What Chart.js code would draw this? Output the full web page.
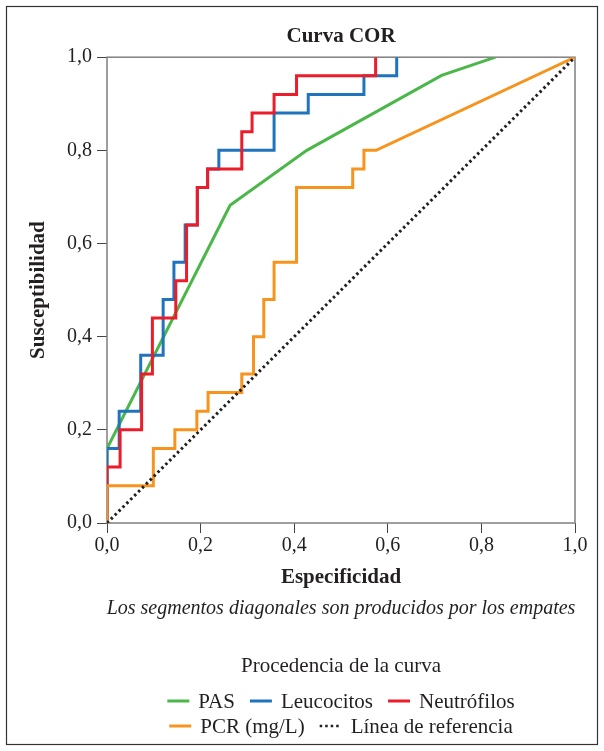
<!DOCTYPE html>
<html>
<head>
<meta charset="utf-8">
<title>Curva COR</title>
<script src="https://cdn.jsdelivr.net/npm/chart.js@4.4.0/dist/chart.umd.min.js"></script>
<style>
  html, body { margin: 0; padding: 0; background: #fff; }
  #wrap { width: 604px; height: 751px; }
</style>
</head>
<body>
<div id="wrap"><canvas id="roc" width="604" height="751"></canvas></div>
<script>
// Curvas COR (x = 1 - especificidad, y = susceptibilidad)
const pasX = [0, 0, 0.263, 0.427, 0.715, 0.830];
const pasY = [0, 0.16, 0.682, 0.80, 0.961, 1.0];

const leucoX = [0, 0, 0.026, 0.026, 0.072, 0.072, 0.120, 0.120, 0.143, 0.143, 0.167, 0.167, 0.193, 0.193,
                0.215, 0.215, 0.239, 0.239, 0.357, 0.357, 0.430, 0.430, 0.549, 0.549, 0.619, 0.619];
const leucoY = [0, 0.16, 0.16, 0.24, 0.24, 0.36, 0.36, 0.48, 0.48, 0.56, 0.56, 0.64, 0.64, 0.72,
                0.72, 0.76, 0.76, 0.80, 0.80, 0.88, 0.88, 0.92, 0.92, 0.96, 0.96, 1.0];

const neutroX = [0, 0, 0.028, 0.028, 0.074, 0.074, 0.097, 0.097, 0.147, 0.147, 0.170, 0.170, 0.193, 0.193,
                 0.215, 0.215, 0.288, 0.288, 0.310, 0.310, 0.357, 0.357, 0.405, 0.405, 0.574, 0.574];
const neutroY = [0, 0.12, 0.12, 0.20, 0.20, 0.32, 0.32, 0.44, 0.44, 0.52, 0.52, 0.64, 0.64, 0.72,
                 0.72, 0.76, 0.76, 0.84, 0.84, 0.88, 0.88, 0.92, 0.92, 0.96, 0.96, 1.0];

const pcrX = [0, 0, 0.099, 0.099, 0.145, 0.145, 0.192, 0.192, 0.216, 0.216, 0.288, 0.288, 0.313, 0.313,
              0.335, 0.335, 0.357, 0.357, 0.405, 0.405, 0.525, 0.525, 0.549, 0.549, 0.575, 1.0];
const pcrY = [0, 0.08, 0.08, 0.16, 0.16, 0.20, 0.20, 0.24, 0.24, 0.28, 0.28, 0.32, 0.32, 0.40,
              0.40, 0.48, 0.48, 0.56, 0.56, 0.72, 0.72, 0.76, 0.76, 0.80, 0.80, 1.0];

const refX = [0, 1];
const refY = [0, 1];

const tickValues = [0, 0.2, 0.4, 0.6, 0.8, 1.0];
const tickLabels = ["0,0", "0,2", "0,4", "0,6", "0,8", "1,0"];

const seriesNames = ["PAS", "Leucocitos", "Neutrófilos", "PCR (mg/L)", "Línea de referencia"];
const legendRows = [[0, 1, 2], [3, 4]];
const noteText = "Los segmentos diagonales son producidos por los empates";

const serif = "'Liberation Serif', 'Times New Roman', serif";
const ink = "#231f20";

function pts(xs, ys) {
    return xs.map((x, i) => ({ x: x, y: ys[i] }));
}

function line(label, data, color, order, dash) {
    return {
        label: label,
        data: data,
        showLine: true,
        borderColor: color,
        backgroundColor: color,
        borderWidth: dash ? 3 : 3,
        borderDash: dash || [],
        borderJoinStyle: "miter",
        borderCapStyle: "butt",
        pointRadius: 0,
        tension: 0,
        fill: false,
        order: order
    };
}

const datasets = [
    line(seriesNames[0], pts(pasX, pasY), "#4bb749", 4),
    line(seriesNames[1], pts(leucoX, leucoY), "#1f74bd", 3),
    line(seriesNames[2], pts(neutroX, neutroY), "#ec1c2a", 2),
    line(seriesNames[3], pts(pcrX, pcrY), "#f7941d", 1),
    line(seriesNames[4], pts(refX, refY), "#231f20", 0, [2.5, 3])
];

function setTicks(scale) {
    scale.ticks = tickValues.map(v => ({ value: v }));
}

// frame around the plot and around the whole figure
const framePlugin = {
    id: "frames",
    beforeDatasetsDraw(chart) {
        const { ctx, chartArea: a } = chart;
        ctx.save();
        ctx.strokeStyle = "#7f7f7f";
        ctx.lineWidth = 1.5;
        ctx.strokeRect(a.left, a.top, a.right - a.left, a.bottom - a.top);
        ctx.restore();
    },
    afterDraw(chart) {
        const { ctx, width, height } = chart;
        ctx.save();
        ctx.strokeStyle = "#333";
        ctx.lineWidth = 1.2;
        ctx.strokeRect(6.5, 6.5, width - 13, height - 13);
        ctx.restore();
    }
};

// note and the two-row legend under the x axis
const bottomPlugin = {
    id: "bottomTexts",
    afterDraw(chart) {
        const { ctx, chartArea: a } = chart;
        const cx = (a.left + a.right) / 2;
        ctx.save();
        ctx.fillStyle = ink;
        ctx.textBaseline = "middle";
        ctx.textAlign = "center";
        ctx.font = "italic 20px " + serif;
        ctx.fillText(noteText, cx, a.bottom + 86);

        ctx.font = "21px " + serif;
        ctx.fillText("Procedencia de la curva", cx, a.bottom + 143);

        const sw = 22, gapText = 9, gapItem = 15;
        legendRows.forEach((row, r) => {
            const y = a.bottom + 178 + r * 25;
            const widths = row.map(i => sw + gapText + ctx.measureText(seriesNames[i]).width);
            const total = widths.reduce((s, w) => s + w, 0) + gapItem * (row.length - 1);
            let x = cx - total / 2;
            row.forEach((i, k) => {
                const ds = chart.data.datasets[i];
                ctx.save();
                ctx.strokeStyle = ds.borderColor;
                ctx.lineWidth = ds.borderDash.length ? 2.5 : ds.borderWidth;
                ctx.setLineDash(ds.borderDash);
                ctx.beginPath();
                ctx.moveTo(x, y);
                ctx.lineTo(x + sw, y);
                ctx.stroke();
                ctx.restore();
                ctx.textAlign = "left";
                ctx.fillText(seriesNames[i], x + sw + gapText, y + 1);
                x += widths[k] + gapItem;
            });
        });
        ctx.restore();
    }
};

new Chart(document.getElementById("roc"), {
    type: "scatter",
    data: { datasets: datasets },
    options: {
        responsive: false,
        animation: false,
        layout: { padding: { left: 7, right: 29, top: 0, bottom: 156 } },
        plugins: {
            legend: { display: false },
            tooltip: { enabled: false },
            title: {
                display: true,
                text: "Curva COR",
                fullSize: false,
                color: ink,
                font: { family: serif, size: 21, weight: "bold" },
                padding: { top: 24, bottom: 8 }
            }
        },
        scales: {
            x: {
                type: "linear",
                min: 0,
                max: 1,
                afterBuildTicks: setTicks,
                afterFit: s => { s.height = 72; },
                ticks: {
                    callback: (v, i) => tickLabels[i],
                    color: ink,
                    font: { family: serif, size: 20 },
                    padding: 1,
                    maxRotation: 0,
                    autoSkip: false
                },
                grid: { drawOnChartArea: false, tickLength: 10, color: "#444", lineWidth: 1 },
                border: { display: false },
                title: {
                    display: true,
                    text: "Especificidad",
                    color: ink,
                    font: { family: serif, size: 21, weight: "bold" },
                    padding: { top: 0, bottom: 5 }
                }
            },
            y: {
                type: "linear",
                min: 0,
                max: 1,
                afterBuildTicks: setTicks,
                afterFit: s => { s.width = 100; },
                ticks: {
                    callback: (v, i) => tickLabels[i],
                    color: ink,
                    font: { family: serif, size: 20 },
                    padding: 5,
                    autoSkip: false
                },
                grid: { drawOnChartArea: false, tickLength: 10, color: "#444", lineWidth: 1 },
                border: { display: false },
                title: {
                    display: true,
                    text: "Susceptibilidad",
                    color: ink,
                    font: { family: serif, size: 21, weight: "bold" },
                    padding: { top: 19, bottom: 0 }
                }
            }
        }
    },
    plugins: [framePlugin, bottomPlugin]
});
</script>
</body>
</html>
